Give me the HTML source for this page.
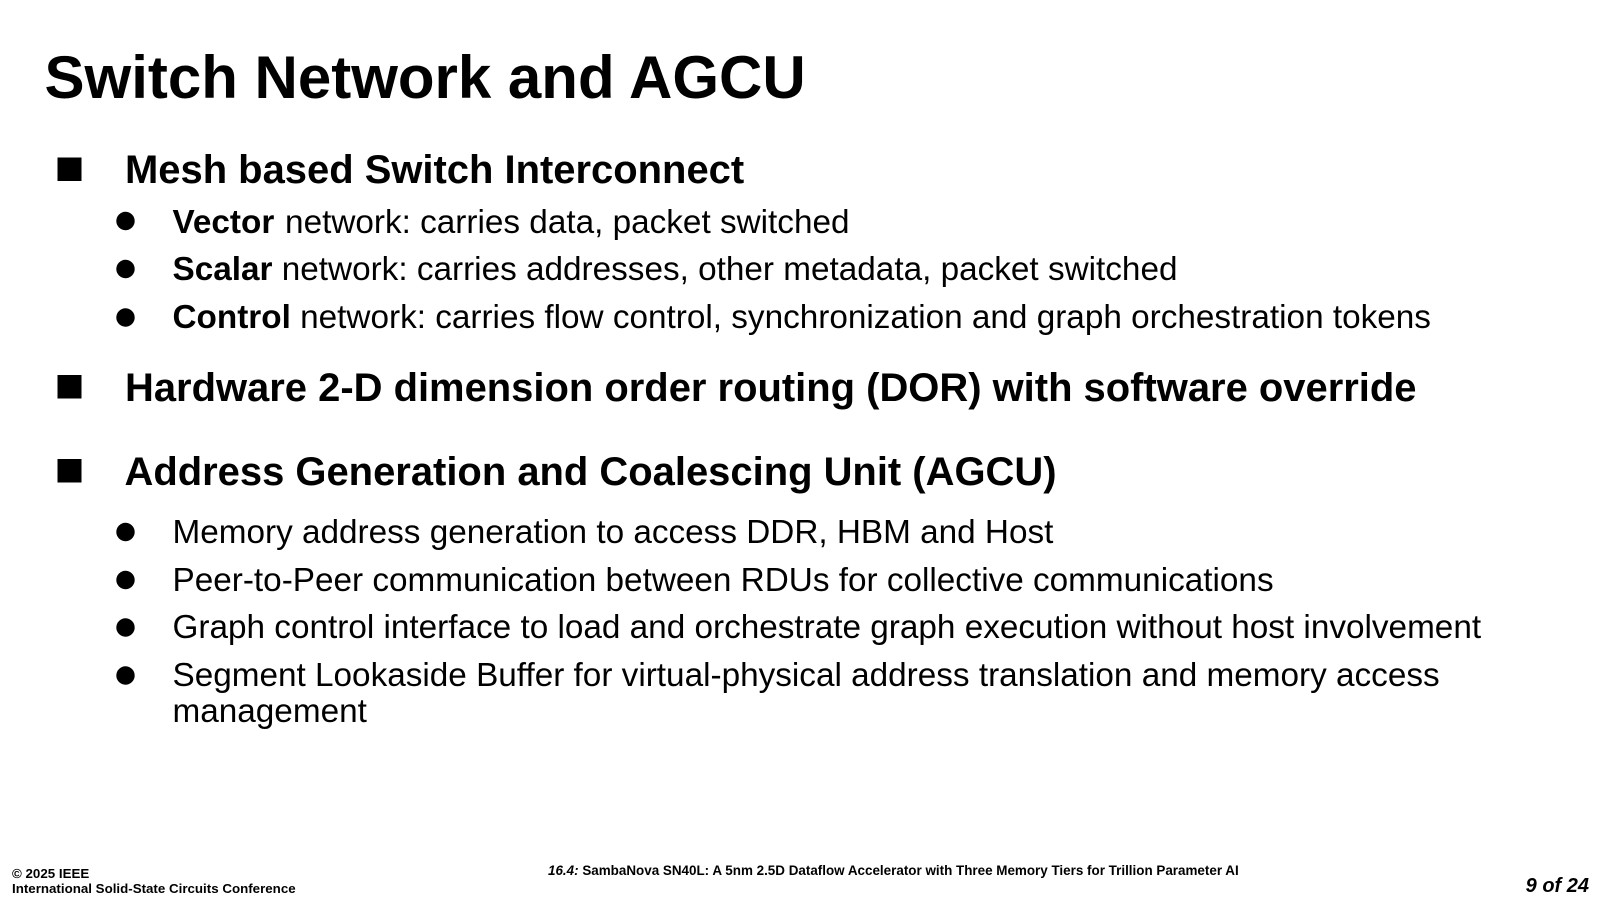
<!DOCTYPE html>
<html><head><meta charset="utf-8"><style>
html,body{margin:0;padding:0;background:#fff;width:1600px;height:900px;overflow:hidden}
svg{display:block}
text{font-family:"Liberation Sans",Arial,sans-serif;fill:#000;white-space:pre}
.t{font-size:60px;font-weight:700}
.h{font-size:39.95px;font-weight:700}
.s{font-size:33.3px}
.b{font-weight:700}
.f{font-size:13.33px;font-weight:700}
</style></head><body>
<svg width="1600" height="900" viewBox="0 0 1600 900" xmlns="http://www.w3.org/2000/svg">
<rect width="1600" height="900" fill="#fff"/>
<text class="t" x="44.500" y="98">Switch Network and AGCU</text>

<rect x="57.500" y="157.500" width="24" height="23.500"/>
<text class="h" x="125" y="183">Mesh based Switch Interconnect</text>
<circle cx="125.500" cy="221" r="9.200"/>
<text class="s" x="172.500" y="233"><tspan class="b">Vector</tspan><tspan dx="1.500"> network: carries data, packet switched</tspan></text>
<circle cx="125.500" cy="269" r="9.200"/>
<text class="s" x="172.500" y="280"><tspan class="b">Scalar</tspan> network: carries addresses, other metadata, packet switched</text>
<circle cx="125.500" cy="317.500" r="9.200"/>
<text class="s" x="172.500" y="328"><tspan class="b">Control</tspan> network: carries flow control, synchronization and graph orchestration tokens</text>

<rect x="57.500" y="375" width="24" height="23.500"/>
<text class="h" x="125" y="401">Hardware 2-D dimension order routing (DOR) with software override</text>

<rect x="57.500" y="459" width="24" height="23.500"/>
<text class="h" x="124.500" y="485">Address Generation and Coalescing Unit (AGCU)</text>

<circle cx="125.500" cy="532" r="9.200"/>
<text class="s" x="172.500" y="543">Memory address generation to access DDR, HBM and Host</text>
<circle cx="125.500" cy="580" r="9.200"/>
<text class="s" x="172.500" y="591">Peer-to-Peer communication between RDUs for collective communications</text>
<circle cx="125.500" cy="627.500" r="9.200"/>
<text class="s" x="172.500" y="638">Graph control interface to load and orchestrate graph execution without host involvement</text>
<circle cx="125.500" cy="675.500" r="9.200"/>
<text class="s" x="172.500" y="686">Segment Lookaside Buffer for virtual-physical address translation and memory access</text>
<text class="s" x="172.500" y="722">management</text>

<text class="f" x="12" y="878">© 2025 IEEE</text>
<text class="f" x="12" y="893">International Solid-State Circuits Conference</text>
<text class="f" x="548" y="875" style="font-size:13.43px"><tspan font-style="italic">16.4:</tspan> SambaNova SN40L: A 5nm 2.5D Dataflow Accelerator with Three Memory Tiers for Trillion Parameter AI</text>
<text x="1589" y="892" text-anchor="end" font-size="20" font-weight="700" font-style="italic">9 of 24</text>
</svg>
</body></html>
